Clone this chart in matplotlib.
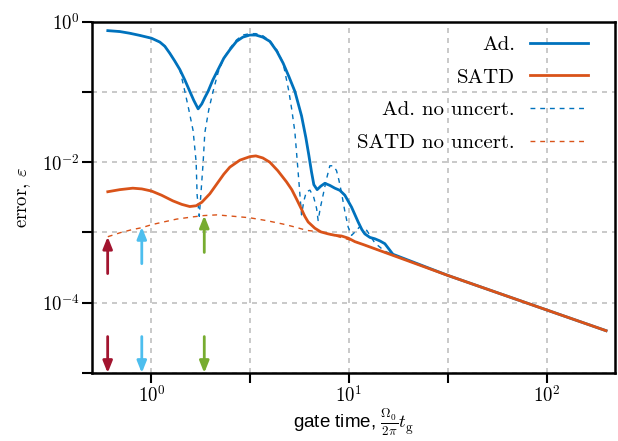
import matplotlib
matplotlib.use("Agg")
import matplotlib.pyplot as plt

plt.rcParams['mathtext.fontset'] = 'cm'
plt.rcParams['font.family'] = ['cmr10', 'DejaVu Serif']
plt.rcParams['axes.unicode_minus'] = False

# gate time values and errors
ad_t = [0.601, 0.691, 0.776, 0.873, 1.00, 1.102, 1.168, 1.238, 1.312, 1.391, 1.475,
        1.563, 1.637, 1.722, 1.797, 1.862, 1.934, 2.044, 2.174, 2.323, 2.492, 2.694,
        2.900, 3.146, 3.375, 3.660, 3.972, 4.309, 4.638, 4.958, 5.318, 5.748, 6.044,
        6.258, 6.458, 6.634, 6.894, 7.197, 7.541, 7.993, 8.475, 8.983, 9.522, 10.30,
        11.12, 11.61, 12.02, 12.75, 13.51, 14.32, 15.18, 16.67, 31.6, 100, 200]
ad_err = [0.746, 0.724, 0.685, 0.638, 0.582, 0.513, 0.447, 0.355, 0.275, 0.209, 0.148,
          0.102, 0.0759, 0.0575, 0.0676, 0.0832, 0.102, 0.148, 0.209, 0.302, 0.398,
          0.525, 0.603, 0.646, 0.646, 0.603, 0.525, 0.380, 0.257, 0.166, 0.102, 0.0457,
          0.0224, 0.0126, 7.24e-3, 4.79e-3, 4.07e-3, 4.57e-3, 5.01e-3, 4.68e-3, 4.27e-3,
          3.98e-3, 3.39e-3, 2.29e-3, 1.41e-3, 1.10e-3, 9.55e-4, 8.51e-4, 8.13e-4,
          7.59e-4, 6.92e-4, 4.90e-4, 2.45e-4, 7.9e-5, 4.0e-5]

satd_t = [0.601, 0.691, 0.804, 0.893, 1.00, 1.125, 1.282, 1.424, 1.563, 1.683, 1.797,
          1.973, 2.166, 2.323, 2.492, 2.802, 3.146, 3.375, 3.660, 3.972, 4.355, 4.824,
          5.130, 5.436, 5.748, 5.970, 6.209, 6.714, 7.197, 7.843, 8.475, 9.155, 9.893,
          10.70, 12.02, 31.6, 100, 200]
satd_err = [3.80e-3, 4.07e-3, 4.27e-3, 4.17e-3, 3.89e-3, 3.39e-3, 2.82e-3, 2.51e-3,
            2.34e-3, 2.40e-3, 2.69e-3, 3.55e-3, 5.13e-3, 6.76e-3, 8.51e-3, 1.07e-2,
            1.20e-2, 1.23e-2, 1.15e-2, 1.00e-2, 7.59e-3, 5.25e-3, 4.07e-3, 2.95e-3,
            2.14e-3, 1.70e-3, 1.41e-3, 1.15e-3, 1.02e-3, 9.55e-4, 9.12e-4, 8.91e-4,
            8.32e-4, 7.41e-4, 6.61e-4, 2.45e-4, 7.9e-5, 4.0e-5]

ad_nu_t = [0.601, 0.691, 0.776, 0.873, 1.00, 1.102, 1.168, 1.238, 1.312, 1.391, 1.475,
           1.545, 1.624, 1.683, 1.702, 1.745, 1.777, 1.826, 1.862, 1.950, 2.050, 2.174,
           2.323, 2.492, 2.694, 2.900, 3.146, 3.375, 3.660, 3.972, 4.309, 4.638, 4.958,
           5.130, 5.318, 5.525, 5.748, 5.903, 6.080, 6.340, 6.627, 6.850, 6.975, 7.155,
           7.370, 7.670, 7.993, 8.330, 8.640, 8.880, 9.155, 9.522, 9.893, 10.30, 10.90,
           11.30, 12.30, 13.50, 15.18, 31.6, 100, 200]
ad_nu_err = [0.746, 0.724, 0.685, 0.638, 0.582, 0.513, 0.447, 0.355, 0.275, 0.209,
             0.102, 0.056, 0.0282, 0.01, 3.4e-3, 1.7e-3, 3.4e-3, 0.01, 0.0263, 0.056,
             0.102, 0.19, 0.302, 0.417, 0.55, 0.646, 0.676, 0.676, 0.631, 0.537, 0.398,
             0.257, 0.102, 0.056, 0.027, 7.2e-3, 1.78e-3, 2.8e-3, 3.8e-3, 4.0e-3,
             3.16e-3, 2.2e-3, 1.48e-3, 2.24e-3, 3.3e-3, 5.6e-3, 8.9e-3, 8.9e-3, 7.6e-3,
             5.6e-3, 3.7e-3, 2.0e-3, 1.2e-3, 9.1e-4, 1.07e-3, 1.2e-3, 1.07e-3, 7.1e-4,
             5.4e-4, 2.45e-4, 7.9e-5, 4.0e-5]

satd_nu_t = [0.601, 0.70, 0.80, 0.893, 1.0, 1.15, 1.34, 1.6, 1.84, 2.14, 2.6, 3.14,
             3.8, 4.62, 5.3, 6.11, 7.2, 10.0, 12.0, 31.6, 100, 200]
satd_nu_err = [8.7e-4, 1.0e-3, 1.1e-3, 1.17e-3, 1.29e-3, 1.41e-3, 1.55e-3, 1.66e-3,
               1.74e-3, 1.78e-3, 1.70e-3, 1.62e-3, 1.48e-3, 1.32e-3, 1.2e-3, 1.07e-3,
               1.02e-3, 7.9e-4, 6.6e-4, 2.45e-4, 7.9e-5, 4.0e-5]

# marker arrows: x position, colour, (tail, tip) of upper arrow
arrow_t = [0.60, 0.893, 1.85]
arrow_colors = ['#A2142F', '#4DBEEE', '#77AC30']
arrow_tail = [2.6e-4, 3.6e-4, 5.2e-4]
arrow_tip = [8.7e-4, 1.2e-3, 1.74e-3]

blue = '#0072BD'
orange = '#D95319'

fig = plt.figure(figsize=(6.18, 4.41), dpi=100)
ax = fig.add_axes([0.1489, 0.1542, 0.8463, 0.7966])
ax.set_xscale('log')
ax.set_yscale('log')

ax.plot(ad_t, ad_err, color=blue, lw=2.0, label='Ad.', zorder=3)
ax.plot(satd_t, satd_err, color=orange, lw=2.0, label='SATD', zorder=5)
ax.plot(ad_nu_t, ad_nu_err, color=blue, lw=1.0, ls=(0, (3.5, 3.5)),
        label='Ad. no uncert.', zorder=4)
ax.plot(satd_nu_t, satd_nu_err, color=orange, lw=1.0, ls=(0, (3.5, 3.5)),
        label='SATD no uncert.', zorder=4)

for x, c, t0, t1 in zip(arrow_t, arrow_colors, arrow_tail, arrow_tip):
    style = dict(arrowstyle='-|>,head_length=0.5,head_width=0.2', color=c, lw=2.0,
                 mutation_scale=14, shrinkA=0, shrinkB=0)
    ax.annotate('', xy=(x, t1), xytext=(x, t0), arrowprops=style, zorder=6)
    ax.annotate('', xy=(x, 1e-5), xytext=(x, 3.3e-5), arrowprops=style, zorder=6)

ax.set_xlim(0.5, 222)
ax.set_ylim(1e-5, 1)

ax.set_xticks([1, 10 ** 0.5, 10, 10 ** 1.5, 100])
ax.set_xticklabels(['$10^{0}$', '', '$10^{1}$', '', '$10^{2}$'])
ax.set_yticks([1e-5, 1e-4, 1e-3, 1e-2, 1e-1, 1])
ax.set_yticklabels(['', '$10^{-4}$', '', '$10^{-2}$', '', '$10^{0}$'])
ax.minorticks_off()
ax.tick_params(direction='out', length=7, width=1.5, labelsize=13.5, pad=2)

ax.grid(True, ls=(0, (3, 3)), color='#c0c0c0', lw=1.2)
ax.set_axisbelow(True)
for s in ax.spines.values():
    s.set_linewidth(1.8)

ax.set_xlabel(r'gate time, $\frac{\Omega_0}{2\pi}t_{\rm g}$', fontsize=13.5,
              family='Liberation Sans', labelpad=0)
ax.set_ylabel(r'error, $\varepsilon$', fontsize=13.5, labelpad=6)

ax.legend(loc='upper right', bbox_to_anchor=(0.964, 0.985), borderaxespad=0,
          frameon=False, markerfirst=False, fontsize=15, handlelength=2.8,
          labelspacing=0.68, handletextpad=0.7)

fig.savefig('out.png', dpi=100)
